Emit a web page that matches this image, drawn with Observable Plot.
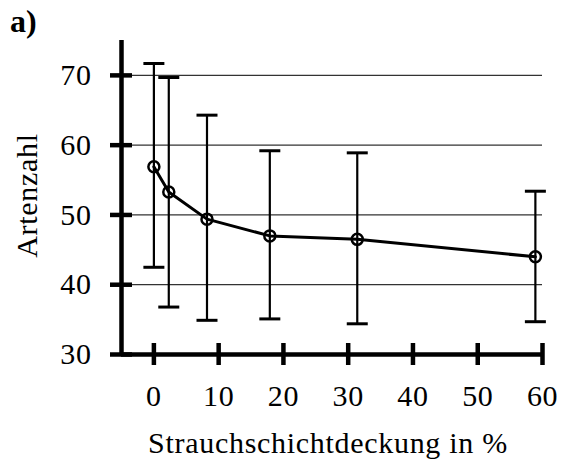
<!DOCTYPE html>
<html>
<head>
<meta charset="utf-8">
<script src="https://cdn.jsdelivr.net/npm/d3@7"></script>
<script src="https://cdn.jsdelivr.net/npm/@observablehq/plot@0.6"></script>
<style>
  body { margin: 0; background: white; }
  #wrap { position: relative; width: 561px; height: 459px; }
  #panel { position: absolute; left: 10px; top: 5px; font: bold 32px "Liberation Serif", serif; line-height: 1; }
  svg text { letter-spacing: 0.6px; }
  svg text.lbl, svg .lbl text { letter-spacing: 0.7px; }
</style>
</head>
<body>
<div id="wrap"><div id="panel">a)</div></div>
<script>
const cover = [0, 2.3, 8.2, 17.9, 31.4, 58.9];
const meanSpecies = [56.9, 53.3, 49.4, 47.0, 46.5, 44.0];
const upperSpecies = [71.7, 69.7, 64.3, 59.2, 58.9, 53.4];
const lowerSpecies = [42.5, 36.8, 34.9, 35.1, 34.4, 34.7];
const xTicks = [0, 10, 20, 30, 40, 50, 60];
const yTicks = [30, 40, 50, 60, 70];
const gridValues = [40, 50, 60, 70];
const xDomain = [-5, 60];
const yDomain = [30, 75];
const xLabel = "Strauchschichtdeckung in %";
const yLabel = "Artenzahl";

const data = cover.map((x, i) => ({x, m: meanSpecies[i], hi: upperSpecies[i], lo: lowerSpecies[i]}));

const capSymbol = {
  draw(ctx, size) {
    const w = Math.sqrt(size / Math.PI);
    ctx.moveTo(-w, 0);
    ctx.lineTo(w, 0);
  }
};

const chart = Plot.plot({
  width: 561,
  height: 459,
  marginLeft: 121,
  marginRight: 19,
  marginTop: 40,
  marginBottom: 105,
  style: {fontFamily: "Liberation Serif, serif", fontSize: "30px", background: "white", color: "black", overflow: "visible"},
  x: {domain: xDomain},
  y: {domain: yDomain},
  marks: [
    Plot.ruleY(gridValues, {stroke: "#333", strokeWidth: 1.2}),
    Plot.ruleX(data, {x: "x", y1: "lo", y2: "hi", stroke: "black", strokeWidth: 2.2}),
    Plot.dot(data, {x: "x", y: "hi", symbol: capSymbol, r: 10.5, stroke: "black", strokeWidth: 3, fill: "none"}),
    Plot.dot(data, {x: "x", y: "lo", symbol: capSymbol, r: 10.5, stroke: "black", strokeWidth: 3, fill: "none"}),
    Plot.line(data, {x: "x", y: "m", stroke: "black", strokeWidth: 3}),
    Plot.dot(data, {x: "x", y: "m", r: 5.5, stroke: "black", strokeWidth: 2.5, fill: "none"}),
    Plot.ruleX([xDomain[0]], {stroke: "black", strokeWidth: 4.5}),
    Plot.ruleY([yDomain[0]], {stroke: "black", strokeWidth: 4.5}),
    Plot.axisY(yTicks, {tickSize: 22, dx: 11, tickFormat: () => "", strokeWidth: 4.5, label: null}),
    Plot.axisY(yTicks, {tickSize: 0, tickPadding: 30, fontSize: 30, label: null}),
    Plot.axisX(xTicks, {tickSize: 22, dy: -11, tickFormat: () => "", strokeWidth: 4.5, label: null}),
    Plot.axisX(xTicks, {tickSize: 0, tickPadding: 30, fontSize: 30, label: null}),
    Plot.text([xLabel], {frameAnchor: "bottom", textAnchor: "middle", lineAnchor: "bottom", dy: 98, dx: -4, fontSize: 30, className: "lbl"}),
    Plot.text([yLabel], {frameAnchor: "left", textAnchor: "middle", rotate: -90, dx: -94, dy: -2, fontSize: 30, className: "lbl"})
  ]
});
document.getElementById("wrap").prepend(chart);
</script>
</body>
</html>
